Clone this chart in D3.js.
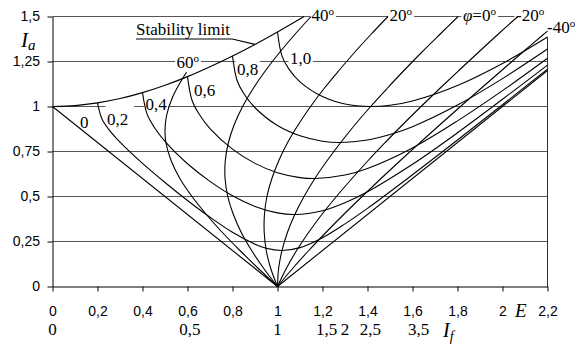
<!DOCTYPE html>
<html>
<head>
<meta charset="utf-8">
<script src="https://cdn.jsdelivr.net/npm/d3@7"></script>
<style>
body { margin: 0; background: #fff; }
.axis text { font-family: "Liberation Sans", Arial, sans-serif; font-size: 14px; fill: #000; }
.axis path, .axis line { stroke: #000; }
.serif { font-family: "Liberation Serif", "Times New Roman", serif; fill: #000; }
</style>
</head>
<body>
<svg id="chart" width="575" height="344"></svg>
<script>
//axis ticks
let eTicks = [0, 0.2, 0.4, 0.6, 0.8, 1, 1.2, 1.4, 1.6, 1.8, 2, 2.2];
let iaTicks = [0, 0.25, 0.5, 0.75, 1, 1.25, 1.5];
//second row under the E axis (field current), placed at the E value it gives
let ifLabels = ["0", "0,5", "1", "1,5", "2", "2,5", "3,5"];
let ifAtE = [0, 0.61, 1.0, 1.218, 1.30, 1.413, 1.627];

//constant power curves, points are [E, Ia]
let p0 = [[0, 1], [1, 0], [2.2, 1.2]];
let p02 = [[0.2, 1.020], [0.22, 0.930], [0.25, 0.873], [0.3, 0.802], [0.4, 0.684], [0.5, 0.578], [0.6, 0.478], [0.7, 0.385], [0.8, 0.301], [0.9, 0.235], [0.95, 0.212], [1.02, 0.200], [1.1, 0.216], [1.2, 0.271], [1.3, 0.348], [1.4, 0.434], [1.6, 0.621], [1.8, 0.814], [2.0, 1.010], [2.2, 1.208]];
let p04 = [[0.4, 1.077], [0.42, 0.959], [0.45, 0.889], [0.5, 0.806], [0.6, 0.682], [0.7, 0.584], [0.8, 0.504], [0.9, 0.445], [1.0, 0.409], [1.077, 0.400], [1.2, 0.421], [1.3, 0.465], [1.4, 0.526], [1.6, 0.679], [1.8, 0.854], [2.0, 1.040], [2.2, 1.230]];
let p06 = [[0.6, 1.166], [0.62, 1.035], [0.65, 0.961], [0.7, 0.877], [0.8, 0.763], [0.9, 0.684], [1.0, 0.632], [1.1, 0.605], [1.166, 0.600], [1.3, 0.619], [1.4, 0.656], [1.6, 0.770], [1.8, 0.920], [2.0, 1.088], [2.2, 1.268]];
let p08 = [[0.8, 1.281], [0.82, 1.146], [0.85, 1.072], [0.9, 0.993], [1.0, 0.894], [1.1, 0.837], [1.2, 0.807], [1.28, 0.800], [1.4, 0.814], [1.5, 0.844], [1.6, 0.888], [1.8, 1.008], [2.0, 1.155], [2.2, 1.319]];
let p10 = [[1.0, 1.414], [1.02, 1.280], [1.05, 1.209], [1.1, 1.137], [1.2, 1.055], [1.3, 1.014], [1.414, 1.000], [1.5, 1.007], [1.6, 1.031], [1.8, 1.117], [2.0, 1.239], [2.2, 1.386]];

//constant power factor curves
let phi60 = [[1, 0], [0.915, 0.1], [0.833, 0.2], [0.755, 0.3], [0.684, 0.4], [0.620, 0.5], [0.566, 0.6], [0.527, 0.7], [0.504, 0.8], [0.500, 0.866], [0.507, 0.95], [0.533, 1.05], [0.578, 1.155], [0.596, 1.19]];
let phi40 = [[1, 0], [0.939, 0.1], [0.885, 0.2], [0.839, 0.3], [0.804, 0.4], [0.779, 0.5], [0.767, 0.6], [0.768, 0.7], [0.782, 0.8], [0.808, 0.9], [0.845, 1.0], [0.892, 1.1], [0.947, 1.2], [1.009, 1.3], [1.077, 1.4], [1.149, 1.5]];
let phi20 = [[1, 0], [0.970, 0.1], [0.950, 0.2], [0.941, 0.3], [0.942, 0.4], [0.953, 0.5], [0.975, 0.6], [1.006, 0.7], [1.045, 0.8], [1.093, 0.9], [1.147, 1.0], [1.207, 1.1], [1.273, 1.2], [1.342, 1.3], [1.415, 1.4], [1.491, 1.5]];
let phi0 = [[1, 0], [1.005, 0.1], [1.020, 0.2], [1.044, 0.3], [1.077, 0.4], [1.118, 0.5], [1.166, 0.6], [1.221, 0.7], [1.281, 0.8], [1.345, 0.9], [1.414, 1.0], [1.487, 1.1], [1.562, 1.2], [1.640, 1.3], [1.721, 1.4], [1.803, 1.5]];
let phiM20 = [[1, 0], [1.039, 0.1], [1.085, 0.2], [1.138, 0.3], [1.197, 0.4], [1.262, 0.5], [1.331, 0.6], [1.403, 0.7], [1.479, 0.8], [1.557, 0.9], [1.638, 1.0], [1.721, 1.1], [1.806, 1.2], [1.892, 1.3], [1.979, 1.4], [2.068, 1.5]];
let phiM40 = [[1, 0], [1.067, 0.1], [1.139, 0.2], [1.215, 0.3], [1.294, 0.4], [1.376, 0.5], [1.460, 0.6], [1.546, 0.7], [1.634, 0.8], [1.723, 0.9], [1.813, 1.0], [1.904, 1.1], [1.996, 1.2], [2.088, 1.3], [2.182, 1.4], [2.2, 1.419]];

//stability limit
let stability = [[0, 1], [0.1, 1.005], [0.2, 1.020], [0.3, 1.044], [0.4, 1.077], [0.5, 1.118], [0.6, 1.166], [0.7, 1.221], [0.8, 1.281], [0.9, 1.345], [1.0, 1.414], [1.118, 1.5]];

let powerNames = ["0", "0,2", "0,4", "0,6", "0,8", "1,0"];
let angleNames = ["60º", "40º", "20º", "φ=0º", "-20º", "-40º"];

//where the curve labels sit (axis units, left/baseline)
let powerLabelAt = [[0.122, 0.881], [0.242, 0.900], [0.413, 0.981], [0.629, 1.056], [0.820, 1.175], [1.056, 1.236]];
let angleLabelAt = [[0.551, 1.214], [1.151, 1.475], [1.498, 1.475], [1.824, 1.475], [2.06, 1.475], [2.198, 1.408]];

let svg = d3.select("#chart");
let plotLeft = 52.5, plotRight = 547.5, plotTop = 16.5, plotBottom = 286.5;

let xScale = d3.scaleLinear().domain([0, 2.2]).range([plotLeft, plotRight]);
let yScale = d3.scaleLinear().domain([0, 1.5]).range([plotBottom, plotTop]);

let gridLayer = svg.append('g');
let boxLayer = svg.append('g');
let axisLayer = svg.append('g');
let curveLayer = svg.append('g');
let textLayer = svg.append('g');

//horizontal grid
gridLayer.append('g')
    .selectAll('line')
    .data(iaTicks.filter(d => d > 0))
    .enter()
    .append('line')
    .attr('x1', plotLeft)
    .attr('x2', plotRight)
    .attr('y1', d => yScale(d))
    .attr('y2', d => yScale(d))
    .attr('stroke', '#555')
    .attr('stroke-width', 1);

//right edge of plot area
gridLayer.append('line')
    .attr('x1', plotRight).attr('x2', plotRight)
    .attr('y1', plotTop).attr('y2', plotBottom)
    .attr('stroke', '#333');

let comma = d => String(d).replace('.', ',');

//axes
axisLayer.append('g')
    .attr('class', 'axis')
    .attr('transform', 'translate(0,' + plotBottom + ')')
    .call(d3.axisBottom(xScale)
        .tickValues(eTicks)
        .tickSizeInner(5)
        .tickSizeOuter(0)
        .tickPadding(14.5)
        .tickFormat(comma));

axisLayer.append('g')
    .attr('class', 'axis')
    .attr('transform', 'translate(' + plotLeft + ',0)')
    .call(d3.axisLeft(yScale)
        .tickValues(iaTicks)
        .tickSizeInner(5)
        .tickSizeOuter(0)
        .tickPadding(7.5)
        .tickFormat(comma));

//curves
let smooth = d3.line()
    .x(d => xScale(d[0]))
    .y(d => yScale(d[1]))
    .curve(d3.curveCatmullRom.alpha(0.5));
let straight = d3.line()
    .x(d => xScale(d[0]))
    .y(d => yScale(d[1]));

function drawCurve(points, gen) {
    curveLayer.append('path')
        .attr('d', gen(points))
        .attr('fill', 'none')
        .attr('stroke', '#000')
        .attr('stroke-width', 1.1)
        .attr('stroke-linejoin', 'round');
}

drawCurve(p0, straight);
[p02, p04, p06, p08, p10].forEach(c => drawCurve(c, smooth));
[phi60, phi40, phi20, phi0, phiM20, phiM40].forEach(c => drawCurve(c, smooth));
drawCurve(stability, smooth);

//curve labels with white boxes hiding the grid behind them
function addLabel(name, at, pad) {
    let t = textLayer.append('text')
        .attr('class', 'serif')
        .attr('x', xScale(at[0]))
        .attr('y', yScale(at[1]))
        .attr('font-size', 17);
    let body = name.replace('º', '');
    if (body.startsWith('φ')) {
        t.append('tspan').attr('font-style', 'italic').text('φ');
        t.append('tspan').text(body.slice(1));
    } else {
        t.append('tspan').text(body);
    }
    if (name.endsWith('º')) {
        t.append('tspan').attr('font-size', 11).attr('dy', -6).text('o');
    }
    let b = t.node().getBBox();
    pad = pad || {};
    let pt = pad.t || 1, pr = pad.r || 1.5, pb = pad.b || 0, pl = pad.l || 1.5;
    boxLayer.append('rect')
        .attr('x', b.x - pl)
        .attr('y', b.y - pt)
        .attr('width', b.width + pl + pr)
        .attr('height', b.height + pt + pb)
        .attr('fill', '#fff');
}

for (let i = 0; i < powerNames.length; i++) {
    addLabel(powerNames[i], powerLabelAt[i], i == 1 ? {t: 8, r: 6} : null);
}
for (let i = 0; i < angleNames.length; i++) {
    addLabel(angleNames[i], angleLabelAt[i], i == 5 ? {t: 3} : null);
}

//stability limit label, underlined, with a leader to the curve
let st = textLayer.append('text')
    .attr('class', 'serif')
    .attr('x', xScale(0.371))
    .attr('y', yScale(1.397))
    .attr('font-size', 17)
    .text('Stability limit');
let sb = st.node().getBBox();
let uy = yScale(1.397) + 4;
textLayer.append('polyline')
    .attr('points', [[sb.x, uy], [sb.x + sb.width + 2, uy], [xScale(stability[9][0]), yScale(stability[9][1])]].join(' '))
    .attr('fill', 'none')
    .attr('stroke', '#000')
    .attr('stroke-width', 1.1);

//second row of x labels (field current)
textLayer.append('g')
    .selectAll('text')
    .data(ifLabels)
    .enter()
    .append('text')
    .attr('class', 'serif')
    .attr('font-size', 17)
    .attr('text-anchor', 'middle')
    .attr('x', (d, k) => xScale(ifAtE[k]))
    .attr('y', 335)
    .text(d => d);

//axis titles
textLayer.append('text')
    .attr('class', 'serif')
    .attr('font-style', 'italic')
    .attr('font-size', 19)
    .attr('x', 515)
    .attr('y', 317)
    .text('E');

let ifTitle = textLayer.append('text')
    .attr('class', 'serif')
    .attr('font-style', 'italic')
    .attr('x', 443)
    .attr('y', 337);
ifTitle.append('tspan').attr('font-size', 20).text('I');
ifTitle.append('tspan').attr('font-size', 14).attr('dy', 4).text('f');

let iaTitle = textLayer.append('text')
    .attr('class', 'serif')
    .attr('font-style', 'italic')
    .attr('x', 21)
    .attr('y', 47);
iaTitle.append('tspan').attr('font-size', 21).text('I');
iaTitle.append('tspan').attr('font-size', 15).attr('dy', 3).text('a');
</script>
</body>
</html>
